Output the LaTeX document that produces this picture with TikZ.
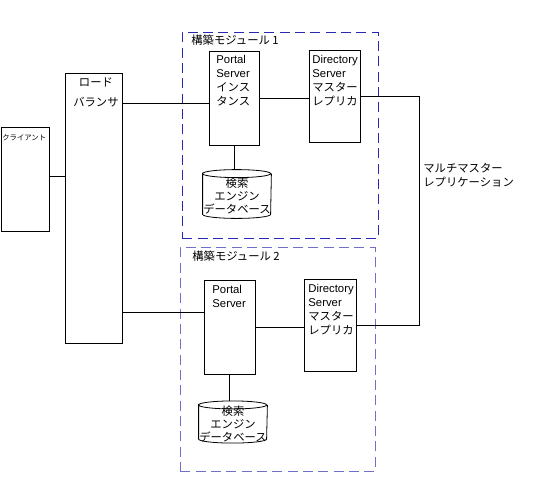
\documentclass[tikz,border=0pt]{standalone}
\usepackage{fontspec}
\setmainfont{Liberation Sans}
\newfontfamily\jp{Noto Sans CJK JP}
\definecolor{modblue}{HTML}{2828B4}
\definecolor{modlilac}{HTML}{7070CC}

\begin{document}
\begin{tikzpicture}[x=0.75pt, y=-0.75pt, line width=0.6pt,
    every node/.style={font=\fontsize{8.5}{10.5}\selectfont},
    box/.style={draw, inner sep=0pt, anchor=north west},
    modbox/.style={draw, dash pattern=on 7.5pt off 4pt, inner sep=0pt, anchor=north west},
    db/.style={inner sep=0pt, minimum width=51pt},
    txt/.style={anchor=north west, align=left, inner sep=0pt}]
    \useasboundingbox (0,0) rectangle (533,487);

    % modules
    \node[modbox, draw=modblue, minimum width=147pt, minimum height=154.5pt] (mod1) at (182,32) {};
    \node[txt] at (191,35) {\jp 構築モジュール 1};
    \node[modbox, draw=modlilac, minimum width=146pt, minimum height=168pt] (mod2) at (180,247) {};
    \node[txt] at (192,251) {\jp 構築モジュール 2};

    % client and load balancer
    \node[box, minimum width=36pt, minimum height=78pt] (client) at (0.5,127) {};
    \node[txt, font=\fontsize{5.5}{6.5}\selectfont] at (2,134) {\jp クライアント};
    \node[box, minimum width=43pt, minimum height=202.5pt] (lb) at (65,73) {};
    \node[anchor=north, align=center, inner sep=0pt, font=\fontsize{8.5}{15}\selectfont] at (96,77) {\jp ロード\\\jp バランサ};

    % module 1
    \node[box, minimum width=37.5pt, minimum height=70.5pt] (p1) at (209,51) {};
    \node[txt] at (216,55) {Portal\\Server\\\jp インス\\\jp タンス};
    \node[box, minimum width=38pt, minimum height=69pt] (ds1) at (309,50) {};
    \node[txt] at (312,55) {Directory\\Server\\\jp マスター\\\jp レプリカ};
    \node[db, minimum height=36pt] (db1) at (237,194) {};
    \node[align=center, inner sep=0pt, font=\fontsize{8.5}{9.5}\selectfont] at (237,196) {\jp 検索\\\jp エンジン\\\jp データベース};

    % module 2
    \node[box, minimum width=38pt, minimum height=70.5pt] (p2) at (204,280) {};
    \node[txt] at (212,285) {Portal\\Server};
    \node[box, minimum width=39pt, minimum height=69pt] (ds2) at (304,279) {};
    \node[txt] at (308,284) {Directory\\Server\\\jp マスター\\\jp レプリカ};
    \node[db, minimum height=31pt] (db2) at (233,422) {};
    \node[align=center, inner sep=0pt, font=\fontsize{8.5}{9.5}\selectfont] at (233,424) {\jp 検索\\\jp エンジン\\\jp データベース};

    % database cylinders
    \foreach \d in {db1,db2}
        \draw ([yshift=-3pt]\d.north west) arc[start angle=180, end angle=-180, x radius=25.5pt, y radius=3pt]
            -- ([yshift=3pt]\d.south west) arc[start angle=180, end angle=360, x radius=25.5pt, y radius=3pt]
            -- ([yshift=-3pt]\d.north east);

    % replication
    \coordinate (rep) at (419,0);
    \node[txt] at (423,163) {\jp マルチマスター\\\jp レプリケーション};

    % connectors
    \draw (client.east |- 0,176) -- (lb.west |- 0,176);
    \draw ([yshift=-3.75pt]lb.east |- p1.west) -- ([yshift=-3.75pt]p1.west);
    \draw (lb.east |- 0,312) -- (p2.west |- 0,312);
    \draw (p1.east) -- (ds1.west |- p1.east);
    \draw (p2.east) -- (ds2.west |- p2.east);
    \draw (p1.south) -- (p1.south |- db1.north);
    \draw (p2.south) -- (p2.south |- db2.north);
    \draw (ds1.east) -| (rep |- ds2.east) -- (ds2.east);
\end{tikzpicture}
\end{document}
